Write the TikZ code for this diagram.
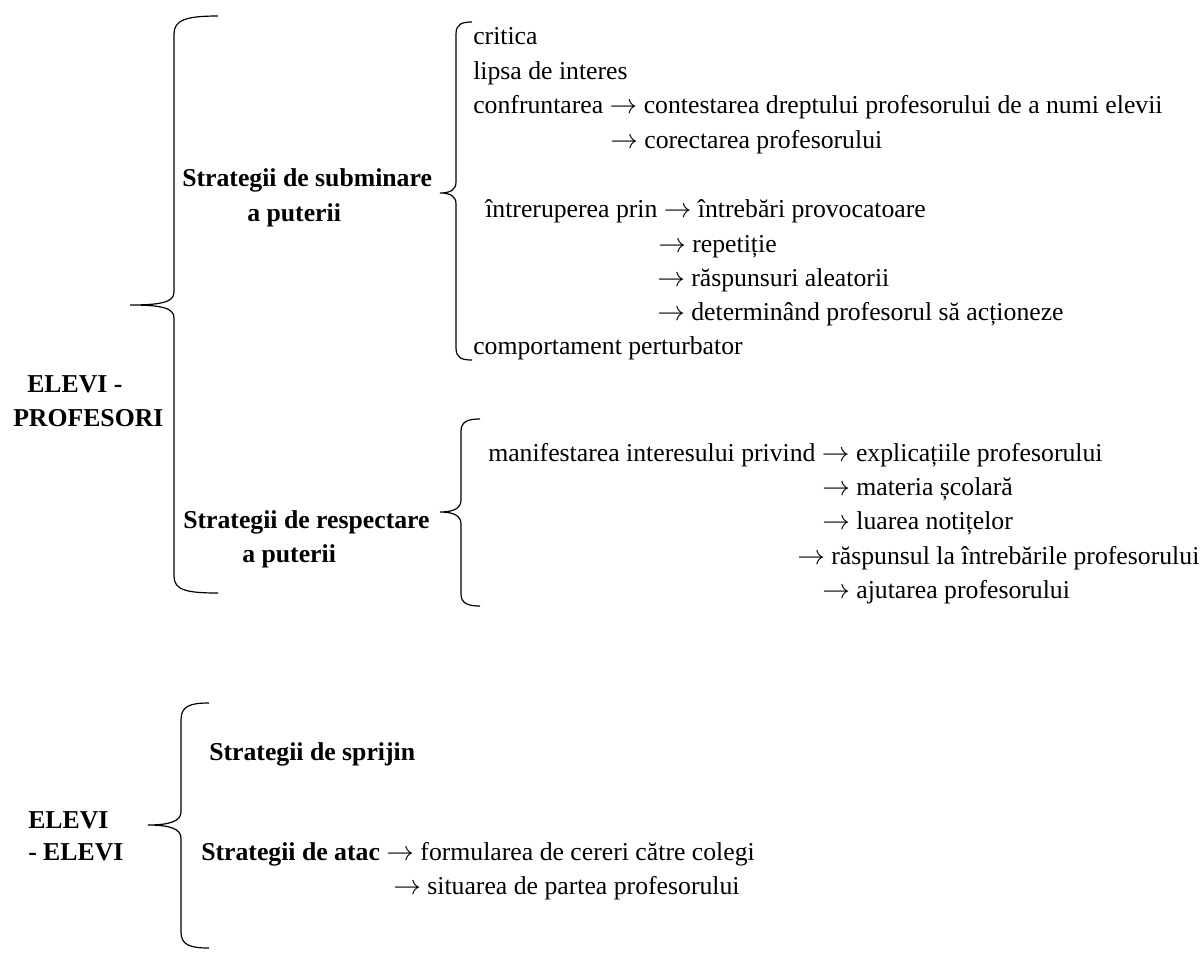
\documentclass[tikz,border=0pt]{standalone}
\usepackage{fontspec}
\setmainfont{Liberation Serif}
\newcommand{\arr}{$\rightarrow$}
\tikzset{
	txt/.style={anchor=base west, inner sep=0pt, font=\fontsize{19.3}{23}\selectfont},
	bold/.style={txt, font=\fontsize{19.3}{23}\selectfont\bfseries},
	brace/.style={line width=0.9pt},
}

\begin{document}
\begin{tikzpicture}[x=0.75pt,y=-0.75pt]
	\useasboundingbox (0,0) rectangle (1201,952);

	% elevi - profesori
	\node[bold] (elevprof) at (27,392) {ELEVI -};
	\node[bold] (profesori) at (13,426) {PROFESORI};
	\draw[brace] (218,16) .. controls (186,16) and (174,20) .. (174,34) -- (174,292) .. controls (174,302) and (162,305) .. (130,305) .. controls (162,305) and (174,308) .. (174,318) -- (174,576) .. controls (174,590) and (186,593) .. (218,593);

	\node[bold] (subminare) at (182,187) {Strategii de subminare};
	\node[bold] (subputere) at (247,221) {a puterii};
	\draw[brace] (472,22) .. controls (462,22) and (456,24) .. (456,34) -- (456,182) .. controls (456,190) and (450,193) .. (440,193) .. controls (450,193) and (456,196) .. (456,204) -- (456,348) .. controls (456,358) and (462,360) .. (472,360);

	\node[txt] (critica) at (473,45) {critica};
	\node[txt] (lipsa) at (473,80) {lipsa de interes};
	\node[txt] (confrunt) at (473,114) {confruntarea \arr{} contestarea dreptului profesorului de a numi elevii};
	\node[txt] (corect) at (610,149) {\arr{} corectarea profesorului};
	\node[txt] (intrer) at (485,218) {întreruperea prin \arr{} întrebări provocatoare};
	\node[txt] (repet) at (658,252) {\arr{} repetiție};
	\node[txt] (raspuns) at (657,286) {\arr{} răspunsuri aleatorii};
	\node[txt] (determ) at (657,320) {\arr{} determinând profesorul să acționeze};
	\node[txt] (comport) at (473,354) {comportament perturbator};

	\node[bold] (respectare) at (183,528) {Strategii de respectare};
	\node[bold] (resputere) at (242,562) {a puterii};
	\draw[brace] (480,419) .. controls (469,419) and (461,421) .. (461,431) -- (461,500) .. controls (461,508) and (454,512) .. (440,512) .. controls (454,512) and (461,516) .. (461,524) -- (461,594) .. controls (461,604) and (469,606) .. (480,606);

	\node[txt] (manif) at (488,461) {manifestarea interesului privind \arr{} explicațiile profesorului};
	\node[txt] (materia) at (822,495) {\arr{} materia școlară};
	\node[txt] (notite) at (822,529) {\arr{} luarea notițelor};
	\node[txt] (raspint) at (797,564) {\arr{} răspunsul la întrebările profesorului};
	\node[txt] (ajutare) at (822,598) {\arr{} ajutarea profesorului};

	% elevi - elevi
	\node[bold] (elevi) at (28,828) {ELEVI};
	\node[bold] (elevi2) at (28,860) {- ELEVI};
	\draw[brace] (209,703) .. controls (190,703) and (181,706) .. (181,720) -- (181,812) .. controls (181,821) and (170,825) .. (148,825) .. controls (170,825) and (181,829) .. (181,838) -- (181,932) .. controls (181,945) and (190,948) .. (209,948);

	\node[bold] (sprijin) at (209,760) {Strategii de sprijin};
	\node[txt] (atac) at (201,860) {\textbf{Strategii de atac} \arr{} formularea de cereri către colegi};
	\node[txt] (situare) at (393,894) {\arr{} situarea de partea profesorului};
\end{tikzpicture}
\end{document}
